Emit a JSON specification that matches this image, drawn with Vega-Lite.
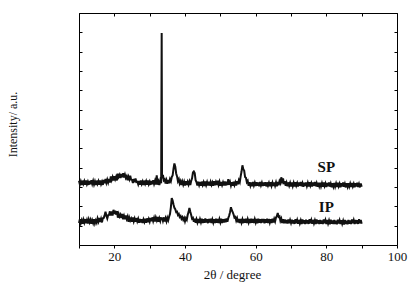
{
"$schema": "https://vega.github.io/schema/vega-lite/v6.json",
"width": 318, "height": 232,
"autosize": {"type": "none"},
"padding": {"left": 79, "top": 13, "right": 19, "bottom": 39},
"config": {"font": "Liberation Serif", "view": {"stroke": null}, "axis": {"grid": false, "domainColor": "#000", "tickColor": "#000", "labelColor": "#111", "titleColor": "#111", "domainWidth": 1, "tickWidth": 1, "labelFont": "Liberation Serif", "titleFont": "Liberation Serif"}},
"datasets": {
"xrd": [
{"x":10.00,"sp":3.32,"ip":1.14},{"x":10.25,"sp":3.13,"ip":1.33},{"x":10.50,"sp":3.28,"ip":1.12},{"x":10.75,"sp":3.10,"ip":1.27},
{"x":11.00,"sp":3.33,"ip":1.10},{"x":11.25,"sp":3.17,"ip":1.31},{"x":11.50,"sp":3.30,"ip":1.16},{"x":11.75,"sp":3.12,"ip":1.34},
{"x":12.00,"sp":3.34,"ip":1.13},{"x":12.25,"sp":3.15,"ip":1.29},{"x":12.50,"sp":3.27,"ip":1.11},{"x":12.75,"sp":3.11,"ip":1.32},
{"x":13.00,"sp":3.31,"ip":1.17},{"x":13.25,"sp":3.14,"ip":1.30},{"x":13.50,"sp":3.35,"ip":1.10},{"x":13.75,"sp":3.16,"ip":1.28},
{"x":14.00,"sp":3.32,"ip":1.14},{"x":14.25,"sp":3.13,"ip":1.33},{"x":14.50,"sp":3.28,"ip":1.12},{"x":14.75,"sp":3.10,"ip":1.27},
{"x":15.00,"sp":3.33,"ip":1.16},{"x":15.25,"sp":3.17,"ip":1.37},{"x":15.50,"sp":3.30,"ip":1.22},{"x":15.75,"sp":3.12,"ip":1.40},
{"x":16.00,"sp":3.34,"ip":1.19},{"x":16.25,"sp":3.15,"ip":1.35},{"x":16.50,"sp":3.27,"ip":1.17},{"x":16.75,"sp":3.11,"ip":1.38},
{"x":17.00,"sp":3.37,"ip":1.40},{"x":17.25,"sp":3.20,"ip":1.53},{"x":17.50,"sp":3.41,"ip":1.72},{"x":17.75,"sp":3.22,"ip":1.51},
{"x":18.00,"sp":3.38,"ip":1.37},{"x":18.25,"sp":3.23,"ip":1.54},{"x":18.50,"sp":3.41,"ip":1.56},{"x":18.75,"sp":3.23,"ip":1.74},
{"x":19.00,"sp":3.55,"ip":1.53},{"x":19.25,"sp":3.36,"ip":1.73},{"x":19.50,"sp":3.51,"ip":1.52},{"x":19.75,"sp":3.33,"ip":1.82},
{"x":20.00,"sp":3.56,"ip":1.60},{"x":20.25,"sp":3.40,"ip":1.77},{"x":20.50,"sp":3.53,"ip":1.57},{"x":20.75,"sp":3.34,"ip":1.75},
{"x":21.00,"sp":3.69,"ip":1.41},{"x":21.25,"sp":3.53,"ip":1.61},{"x":21.50,"sp":3.63,"ip":1.47},{"x":21.75,"sp":3.46,"ip":1.57},
{"x":22.00,"sp":3.67,"ip":1.40},{"x":22.25,"sp":3.51,"ip":1.61},{"x":22.50,"sp":3.71,"ip":1.33},{"x":22.75,"sp":3.49,"ip":1.50},
{"x":23.00,"sp":3.64,"ip":1.33},{"x":23.25,"sp":3.47,"ip":1.53},{"x":23.50,"sp":3.56,"ip":1.35},{"x":23.75,"sp":3.35,"ip":1.47},
{"x":24.00,"sp":3.53,"ip":1.20},{"x":24.25,"sp":3.40,"ip":1.41},{"x":24.50,"sp":3.58,"ip":1.27},{"x":24.75,"sp":3.38,"ip":1.37},
{"x":25.00,"sp":3.37,"ip":1.21},{"x":25.25,"sp":3.21,"ip":1.42},{"x":25.50,"sp":3.41,"ip":1.22},{"x":25.75,"sp":3.24,"ip":1.37},
{"x":26.00,"sp":3.44,"ip":1.20},{"x":26.25,"sp":3.26,"ip":1.39},{"x":26.50,"sp":3.27,"ip":1.22},{"x":26.75,"sp":3.14,"ip":1.35},
{"x":27.00,"sp":3.31,"ip":1.15},{"x":27.25,"sp":3.12,"ip":1.35},{"x":27.50,"sp":3.34,"ip":1.16},{"x":27.75,"sp":3.16,"ip":1.33},
{"x":28.00,"sp":3.28,"ip":1.14},{"x":28.25,"sp":3.10,"ip":1.32},{"x":28.50,"sp":3.33,"ip":1.19},{"x":28.75,"sp":3.17,"ip":1.36},
{"x":29.00,"sp":3.30,"ip":1.15},{"x":29.25,"sp":3.12,"ip":1.38},{"x":29.50,"sp":3.34,"ip":1.18},{"x":29.75,"sp":3.15,"ip":1.34},
{"x":30.00,"sp":3.27,"ip":1.21},{"x":30.25,"sp":3.11,"ip":1.40},{"x":30.50,"sp":3.31,"ip":1.23},{"x":30.75,"sp":3.14,"ip":1.43},
{"x":31.00,"sp":3.35,"ip":1.24},{"x":31.25,"sp":3.16,"ip":1.40},{"x":31.50,"sp":3.32,"ip":1.22},{"x":31.75,"sp":3.13,"ip":1.42},
{"x":32.00,"sp":3.60,"ip":1.28},{"x":32.25,"sp":3.12,"ip":1.45},{"x":32.50,"sp":3.28,"ip":1.20},{"x":32.75,"sp":3.10,"ip":1.38},
{"x":33.00,"sp":3.33,"ip":1.24},{"x":33.25,"sp":3.20,"ip":1.43},{"x":33.40,"sp":10.97,"ip":1.30},{"x":33.50,"sp":3.45,"ip":1.41},
{"x":33.75,"sp":3.62,"ip":1.25},{"x":34.00,"sp":3.35,"ip":1.43},{"x":34.25,"sp":3.40,"ip":1.21},{"x":34.50,"sp":3.18,"ip":1.38},
{"x":34.75,"sp":3.35,"ip":1.22},{"x":35.00,"sp":3.17,"ip":1.41},{"x":35.25,"sp":3.36,"ip":1.28},{"x":35.50,"sp":3.19,"ip":1.46},
{"x":35.75,"sp":3.40,"ip":1.60},{"x":36.00,"sp":3.30,"ip":1.95},{"x":36.25,"sp":3.52,"ip":2.42},{"x":36.50,"sp":3.60,"ip":2.30},
{"x":36.75,"sp":3.95,"ip":2.10},{"x":37.00,"sp":4.22,"ip":1.92},{"x":37.25,"sp":4.05,"ip":1.85},{"x":37.50,"sp":3.70,"ip":1.70},
{"x":37.75,"sp":3.55,"ip":1.72},{"x":38.00,"sp":3.30,"ip":1.55},{"x":38.25,"sp":3.40,"ip":1.60},{"x":38.50,"sp":3.18,"ip":1.45},
{"x":38.75,"sp":3.30,"ip":1.50},{"x":39.00,"sp":3.10,"ip":1.36},{"x":39.25,"sp":3.28,"ip":1.44},{"x":39.50,"sp":3.12,"ip":1.30},
{"x":39.75,"sp":3.27,"ip":1.40},{"x":40.00,"sp":3.08,"ip":1.22},{"x":40.25,"sp":3.30,"ip":1.38},{"x":40.50,"sp":3.10,"ip":1.30},
{"x":40.75,"sp":3.26,"ip":1.55},{"x":41.00,"sp":3.12,"ip":1.70},{"x":41.25,"sp":3.28,"ip":1.92},{"x":41.50,"sp":3.10,"ip":1.72},
{"x":41.75,"sp":3.32,"ip":1.55},{"x":42.00,"sp":3.45,"ip":1.36},{"x":42.25,"sp":3.75,"ip":1.40},{"x":42.50,"sp":3.80,"ip":1.20},
{"x":42.75,"sp":3.72,"ip":1.36},{"x":43.00,"sp":3.35,"ip":1.15},{"x":43.25,"sp":3.26,"ip":1.33},{"x":43.50,"sp":3.08,"ip":1.17},
{"x":43.75,"sp":3.27,"ip":1.35},{"x":44.00,"sp":3.10,"ip":1.14},{"x":44.25,"sp":3.26,"ip":1.33},{"x":44.50,"sp":3.06,"ip":1.18},
{"x":44.75,"sp":3.28,"ip":1.36},{"x":45.00,"sp":3.11,"ip":1.13},{"x":45.25,"sp":3.24,"ip":1.34},{"x":45.50,"sp":3.05,"ip":1.15},
{"x":45.75,"sp":3.29,"ip":1.37},{"x":46.00,"sp":3.10,"ip":1.16},{"x":46.25,"sp":3.25,"ip":1.33},{"x":46.50,"sp":3.08,"ip":1.13},
{"x":46.75,"sp":3.27,"ip":1.35},{"x":47.00,"sp":3.07,"ip":1.17},{"x":47.25,"sp":3.26,"ip":1.36},{"x":47.50,"sp":3.11,"ip":1.14},
{"x":47.75,"sp":3.23,"ip":1.32},{"x":48.00,"sp":3.06,"ip":1.16},{"x":48.25,"sp":3.30,"ip":1.34},{"x":48.50,"sp":3.09,"ip":1.13},
{"x":48.75,"sp":3.25,"ip":1.36},{"x":49.00,"sp":3.10,"ip":1.15},{"x":49.25,"sp":3.33,"ip":1.35},{"x":49.50,"sp":3.12,"ip":1.14},
{"x":49.75,"sp":3.27,"ip":1.33},{"x":50.00,"sp":3.06,"ip":1.17},{"x":50.25,"sp":3.26,"ip":1.36},{"x":50.50,"sp":3.10,"ip":1.13},
{"x":50.75,"sp":3.24,"ip":1.34},{"x":51.00,"sp":3.08,"ip":1.16},{"x":51.25,"sp":3.28,"ip":1.35},{"x":51.50,"sp":3.07,"ip":1.18},
{"x":51.75,"sp":3.27,"ip":1.37},{"x":52.00,"sp":3.10,"ip":1.20},{"x":52.25,"sp":3.40,"ip":1.40},{"x":52.50,"sp":3.12,"ip":1.52},
{"x":52.75,"sp":3.26,"ip":1.70},{"x":53.00,"sp":3.08,"ip":1.95},{"x":53.25,"sp":3.25,"ip":1.80},{"x":53.50,"sp":3.06,"ip":1.70},
{"x":53.75,"sp":3.27,"ip":1.58},{"x":54.00,"sp":3.10,"ip":1.42},{"x":54.25,"sp":3.24,"ip":1.45},{"x":54.50,"sp":3.08,"ip":1.26},
{"x":54.75,"sp":3.30,"ip":1.38},{"x":55.00,"sp":3.14,"ip":1.17},{"x":55.25,"sp":3.35,"ip":1.34},{"x":55.50,"sp":3.25,"ip":1.14},
{"x":55.75,"sp":3.55,"ip":1.35},{"x":56.00,"sp":3.80,"ip":1.16},{"x":56.25,"sp":4.12,"ip":1.32},{"x":56.50,"sp":3.92,"ip":1.13},
{"x":56.75,"sp":3.85,"ip":1.35},{"x":57.00,"sp":3.52,"ip":1.15},{"x":57.25,"sp":3.48,"ip":1.36},{"x":57.50,"sp":3.25,"ip":1.14},
{"x":57.75,"sp":3.32,"ip":1.33},{"x":58.00,"sp":3.06,"ip":1.17},{"x":58.25,"sp":3.25,"ip":1.35},{"x":58.50,"sp":3.07,"ip":1.13},
{"x":58.75,"sp":3.24,"ip":1.36},{"x":59.00,"sp":3.04,"ip":1.15},{"x":59.25,"sp":3.26,"ip":1.34},{"x":59.50,"sp":3.08,"ip":1.14},
{"x":59.75,"sp":3.22,"ip":1.33},{"x":60.00,"sp":3.05,"ip":1.17},{"x":60.25,"sp":3.25,"ip":1.35},{"x":60.50,"sp":3.06,"ip":1.12},
{"x":60.75,"sp":3.23,"ip":1.36},{"x":61.00,"sp":3.04,"ip":1.15},{"x":61.25,"sp":3.26,"ip":1.33},{"x":61.50,"sp":3.09,"ip":1.14},
{"x":61.75,"sp":3.22,"ip":1.34},{"x":62.00,"sp":3.05,"ip":1.16},{"x":62.25,"sp":3.24,"ip":1.35},{"x":62.50,"sp":3.06,"ip":1.12},
{"x":62.75,"sp":3.25,"ip":1.33},{"x":63.00,"sp":3.03,"ip":1.15},{"x":63.25,"sp":3.24,"ip":1.36},{"x":63.50,"sp":3.08,"ip":1.13},
{"x":63.75,"sp":3.21,"ip":1.34},{"x":64.00,"sp":3.04,"ip":1.16},{"x":64.25,"sp":3.25,"ip":1.33},{"x":64.50,"sp":3.06,"ip":1.14},
{"x":64.75,"sp":3.22,"ip":1.36},{"x":65.00,"sp":3.05,"ip":1.17},{"x":65.25,"sp":3.24,"ip":1.35},{"x":65.50,"sp":3.07,"ip":1.22},
{"x":65.75,"sp":3.23,"ip":1.42},{"x":66.00,"sp":3.04,"ip":1.50},{"x":66.25,"sp":3.26,"ip":1.66},{"x":66.50,"sp":3.09,"ip":1.45},
{"x":66.75,"sp":3.30,"ip":1.48},{"x":67.00,"sp":3.20,"ip":1.25},{"x":67.25,"sp":3.50,"ip":1.36},{"x":67.50,"sp":3.30,"ip":1.14},
{"x":67.75,"sp":3.45,"ip":1.33},{"x":68.00,"sp":3.15,"ip":1.12},{"x":68.25,"sp":3.30,"ip":1.32},{"x":68.50,"sp":3.06,"ip":1.13},
{"x":68.75,"sp":3.22,"ip":1.30},{"x":69.00,"sp":3.04,"ip":1.11},{"x":69.25,"sp":3.24,"ip":1.32},{"x":69.50,"sp":3.07,"ip":1.12},
{"x":69.75,"sp":3.21,"ip":1.29},{"x":70.00,"sp":3.03,"ip":1.14},{"x":70.25,"sp":3.24,"ip":1.31},{"x":70.50,"sp":3.05,"ip":1.11},
{"x":70.75,"sp":3.21,"ip":1.28},{"x":71.00,"sp":3.03,"ip":1.09},{"x":71.25,"sp":3.25,"ip":1.33},{"x":71.50,"sp":3.07,"ip":1.13},
{"x":71.75,"sp":3.20,"ip":1.29},{"x":72.00,"sp":3.02,"ip":1.10},{"x":72.25,"sp":3.23,"ip":1.30},{"x":72.50,"sp":3.06,"ip":1.12},
{"x":72.75,"sp":3.26,"ip":1.27},{"x":73.00,"sp":3.04,"ip":1.08},{"x":73.25,"sp":3.19,"ip":1.32},{"x":73.50,"sp":3.01,"ip":1.11},
{"x":73.75,"sp":3.22,"ip":1.28},{"x":74.00,"sp":3.05,"ip":1.09},{"x":74.25,"sp":3.24,"ip":1.31},{"x":74.50,"sp":3.05,"ip":1.11},
{"x":74.75,"sp":3.21,"ip":1.28},{"x":75.00,"sp":3.03,"ip":1.09},{"x":75.25,"sp":3.25,"ip":1.33},{"x":75.50,"sp":3.07,"ip":1.13},
{"x":75.75,"sp":3.20,"ip":1.29},{"x":76.00,"sp":3.02,"ip":1.10},{"x":76.25,"sp":3.23,"ip":1.30},{"x":76.50,"sp":3.06,"ip":1.12},
{"x":76.75,"sp":3.26,"ip":1.27},{"x":77.00,"sp":3.04,"ip":1.08},{"x":77.25,"sp":3.19,"ip":1.32},{"x":77.50,"sp":3.01,"ip":1.11},
{"x":77.75,"sp":3.22,"ip":1.28},{"x":78.00,"sp":3.05,"ip":1.09},{"x":78.25,"sp":3.22,"ip":1.30},{"x":78.50,"sp":3.03,"ip":1.10},
{"x":78.75,"sp":3.19,"ip":1.27},{"x":79.00,"sp":3.01,"ip":1.08},{"x":79.25,"sp":3.23,"ip":1.32},{"x":79.50,"sp":3.05,"ip":1.12},
{"x":79.75,"sp":3.18,"ip":1.28},{"x":80.00,"sp":3.00,"ip":1.09},{"x":80.25,"sp":3.21,"ip":1.29},{"x":80.50,"sp":3.04,"ip":1.11},
{"x":80.75,"sp":3.24,"ip":1.26},{"x":81.00,"sp":3.02,"ip":1.07},{"x":81.25,"sp":3.17,"ip":1.31},{"x":81.50,"sp":2.99,"ip":1.10},
{"x":81.75,"sp":3.20,"ip":1.27},{"x":82.00,"sp":3.03,"ip":1.08},{"x":82.25,"sp":3.21,"ip":1.29},{"x":82.50,"sp":3.02,"ip":1.09},
{"x":82.75,"sp":3.18,"ip":1.26},{"x":83.00,"sp":3.00,"ip":1.07},{"x":83.25,"sp":3.22,"ip":1.31},{"x":83.50,"sp":3.04,"ip":1.11},
{"x":83.75,"sp":3.17,"ip":1.27},{"x":84.00,"sp":2.99,"ip":1.08},{"x":84.25,"sp":3.20,"ip":1.28},{"x":84.50,"sp":3.03,"ip":1.10},
{"x":84.75,"sp":3.23,"ip":1.25},{"x":85.00,"sp":3.01,"ip":1.06},{"x":85.25,"sp":3.16,"ip":1.30},{"x":85.50,"sp":2.98,"ip":1.09},
{"x":85.75,"sp":3.19,"ip":1.26},{"x":86.00,"sp":3.02,"ip":1.07},{"x":86.25,"sp":3.20,"ip":1.29},{"x":86.50,"sp":3.02,"ip":1.10},
{"x":86.75,"sp":3.17,"ip":1.27},{"x":87.00,"sp":3.00,"ip":1.08},{"x":87.25,"sp":3.21,"ip":1.32},{"x":87.50,"sp":3.03,"ip":1.12},
{"x":87.75,"sp":3.16,"ip":1.28},{"x":88.00,"sp":2.99,"ip":1.09},{"x":88.25,"sp":3.19,"ip":1.30},{"x":88.50,"sp":3.02,"ip":1.11},
{"x":88.75,"sp":3.22,"ip":1.28},{"x":89.00,"sp":3.00,"ip":1.09},{"x":89.25,"sp":3.15,"ip":1.33},{"x":89.50,"sp":2.98,"ip":1.12},
{"x":89.75,"sp":3.18,"ip":1.29},{"x":90.00,"sp":3.01,"ip":1.10}
],
"lbl": [{"x":80,"y":4.03,"t":"SP"},{"x":80,"y":1.97,"t":"IP"}]
},
"layer": [
{"data": {"name": "xrd"}, "mark": {"type": "line", "color": "#111", "strokeWidth": 2},
 "encoding": {
  "x": {"field": "x", "type": "quantitative", "scale": {"domain": [10, 100], "nice": false},
   "axis": {"orient": "bottom", "values": [10,20,30,40,50,60,70,80,90,100], "labelExpr": "datum.value % 20 == 0 ? datum.label : ''", "labelFlush": false, "labelOverlap": false, "tickSize": 3, "labelFontSize": 13, "labelPadding": 2, "title": "2θ / degree", "titleFontSize": 13, "titleFontWeight": "normal", "titleX": 153, "titleY": 29, "titleBaseline": "middle"}},
  "y": {"field": "sp", "type": "quantitative", "scale": {"domain": [0, 12], "nice": false, "zero": false},
   "axis": {"orient": "left", "values": [0,1,2,3,4,5,6,7,8,9,10,11,12], "labels": false, "tickSize": -3, "title": "Intensity/ a.u.", "titleFontSize": 12, "titleFontWeight": "normal", "titleX": -67, "titleY": 111, "titleAngle": -90, "titleAlign": "center", "titleBaseline": "middle"}}
 }},
{"data": {"name": "xrd"}, "mark": {"type": "line", "color": "#111", "strokeWidth": 2},
 "encoding": {
  "x": {"field": "x", "type": "quantitative", "scale": {"domain": [10, 100], "nice": false},
   "axis": {"orient": "top", "values": [10,20,30,40,50,60,70,80,90,100], "labels": false, "tickSize": -3, "title": null}},
  "y": {"field": "ip", "type": "quantitative", "scale": {"domain": [0, 12], "nice": false, "zero": false},
   "axis": {"orient": "right", "values": [0,1,2,3,4,5,6,7,8,9,10,11,12], "labels": false, "tickSize": -3, "title": null}}
 }},
{"data": {"name": "lbl"}, "mark": {"type": "text", "fontWeight": "bold", "fontSize": 15, "font": "Liberation Serif", "color": "#111"},
 "encoding": {
  "x": {"field": "x", "type": "quantitative", "axis": null},
  "y": {"field": "y", "type": "quantitative", "axis": null},
  "text": {"field": "t"}
 }}
],
"resolve": {"axis": {"x": "independent", "y": "independent"}}
}
